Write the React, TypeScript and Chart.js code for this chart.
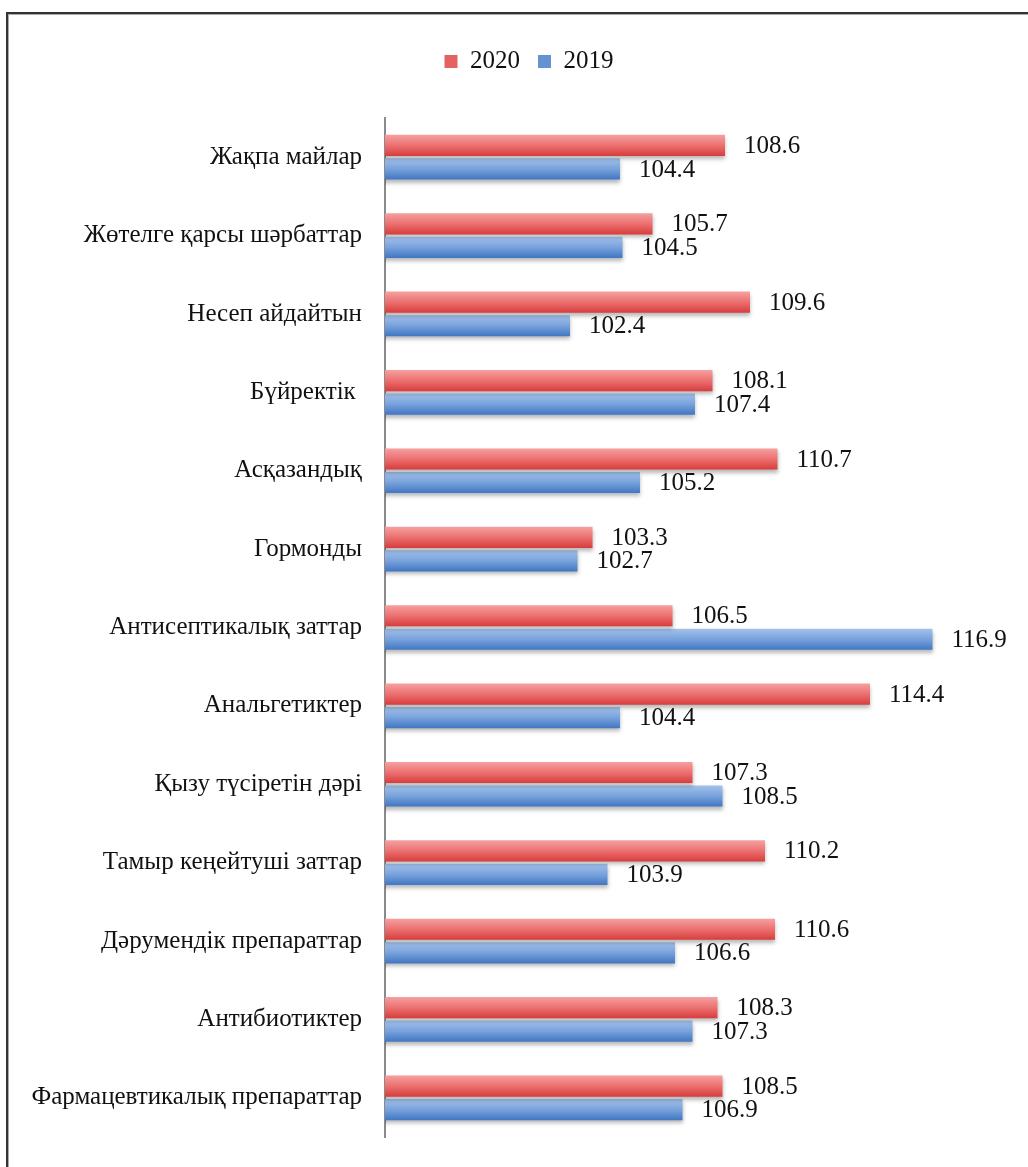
import React, { useEffect, useRef } from "react";
import { Chart, registerables } from "chart.js";

Chart.register(...registerables);

const categories = [
  "Жақпа майлар",
  "Жөтелге қарсы шәрбаттар",
  "Несеп айдайтын",
  "Бүйректік ",
  "Асқазандық",
  "Гормонды",
  "Антисептикалық заттар",
  "Анальгетиктер",
  "Қызу түсіретін дәрі",
  "Тамыр кеңейтуші заттар",
  "Дәрумендік препараттар",
  "Антибиотиктер",
  "Фармацевтикалық препараттар",
];

const values2020 = [108.6, 105.7, 109.6, 108.1, 110.7, 103.3, 106.5, 114.4, 107.3, 110.2, 110.6, 108.3, 108.5];
const values2019 = [104.4, 104.5, 102.4, 107.4, 105.2, 102.7, 116.9, 104.4, 108.5, 103.9, 106.6, 107.3, 106.9];

const seriesLabels = ["2020", "2019"];

const CAT_PCT = 0.6;
const BAR_PCT = 0.9;
const FONT = "'Liberation Serif', 'Times New Roman', serif";

const redStops = ["#f6a0a0", "#ec7070", "#d83c3c"];
const blueStops = ["#a3c2eb", "#78a2dc", "#4176c2"];
const legendColors = ["#e46262", "#6593d2"];

function barFill(stops: string[]) {
  return (c: any) => {
    const chart = c.chart;
    const y = chart.scales && chart.scales.y;
    if (!y || !chart.chartArea) return stops[1];
    const step = (y.bottom - y.top) / categories.length;
    const center = y.getPixelForValue(c.dataIndex);
    const band = step * CAT_PCT;
    const half = band / 2;
    const slotStart = center - band / 2 + c.datasetIndex * half;
    const bh = half * BAR_PCT;
    const y0 = slotStart + (half - bh) / 2;
    const g = chart.ctx.createLinearGradient(0, y0, 0, y0 + bh);
    g.addColorStop(0, stops[0]);
    g.addColorStop(0.5, stops[1]);
    g.addColorStop(1, stops[2]);
    return g;
  };
}

const PAD_TOP = 31;
const AREA_TOP = 118;
const AREA_LEFT = 385;
const PAD_LEFT = 20;
const LEGEND_SHIFT = 14;

const legendSpacer = {
  id: "legendSpacer",
  beforeLayout(chart: any) {
    const legend = chart.legend;
    if (legend && !legend._patched) {
      const orig = legend.fit;
      legend.fit = function () {
        orig.call(this);
        this.height = AREA_TOP - PAD_TOP;
      };
      legend._patched = true;
    }
  },
  afterLayout(chart: any) {
    const legend = chart.legend;
    if (legend) {
      legend.left += LEGEND_SHIFT;
      legend.right += LEGEND_SHIFT;
    }
  },
};

const shadowAndLabels = {
  id: "shadowAndLabels",
  beforeDatasetsDraw(chart: any) {
    const ctx = chart.ctx;
    ctx.save();
    ctx.shadowColor = "rgba(0,0,0,0.28)";
    ctx.shadowOffsetX = 0;
    ctx.shadowOffsetY = 3;
    ctx.shadowBlur = 4;
  },
  afterDatasetsDraw(chart: any) {
    const ctx = chart.ctx;
    ctx.restore();
    ctx.save();
    ctx.font = `25px ${FONT}`;
    ctx.fillStyle = "#111";
    ctx.textAlign = "left";
    ctx.textBaseline = "middle";
    chart.data.datasets.forEach((ds: any, di: number) => {
      const meta = chart.getDatasetMeta(di);
      meta.data.forEach((el: any, i: number) => {
        ctx.fillText(ds.data[i].toFixed(1), el.x + 19, el.y + 1);
      });
    });
    ctx.restore();
  },
};

export default function App() {
  const ref = useRef<HTMLCanvasElement | null>(null);

  useEffect(() => {
    if (!ref.current) return;
    const chart = new Chart(ref.current, {
      type: "bar",
      data: {
        labels: categories,
        datasets: [
          {
            label: seriesLabels[0],
            data: values2020,
            backgroundColor: barFill(redStops),
            borderWidth: 0,
            categoryPercentage: CAT_PCT,
            barPercentage: BAR_PCT,
          },
          {
            label: seriesLabels[1],
            data: values2019,
            backgroundColor: barFill(blueStops),
            borderWidth: 0,
            categoryPercentage: CAT_PCT,
            barPercentage: BAR_PCT,
          },
        ],
      },
      options: {
        indexAxis: "y",
        animation: false,
        responsive: false,
        maintainAspectRatio: false,
        layout: { padding: { top: PAD_TOP, left: PAD_LEFT, right: 18, bottom: 27 } },
        plugins: {
          tooltip: { enabled: false },
          legend: {
            position: "top",
            labels: {
              font: { family: FONT, size: 25 },
              color: "#111",
              boxWidth: 13,
              boxHeight: 13,
              padding: 18,
              generateLabels: (chart: any) =>
                chart.data.datasets.map((ds: any, i: number) => ({
                  text: ds.label,
                  fillStyle: legendColors[i],
                  strokeStyle: legendColors[i],
                  lineWidth: 0,
                  hidden: false,
                  datasetIndex: i,
                  fontColor: "#111",
                })),
            },
          },
        },
        scales: {
          x: {
            display: false,
            min: 95,
            max: 120,
          },
          y: {
            grid: { display: false },
            border: { display: true, color: "#8a8a8a", width: 2 },
            ticks: {
              font: { family: FONT, size: 25 },
              color: "#111",
              padding: 15,
            },
            afterFit: (scale: any) => {
              scale.width = AREA_LEFT - PAD_LEFT;
            },
          },
        },
      },
      plugins: [legendSpacer, shadowAndLabels],
    });
    return () => chart.destroy();
  }, []);

  return (
    <div style={{ position: "absolute", left: 0, top: 0, width: 1028, height: 1167, background: "#fff", overflow: "hidden" }}>
      <div
        style={{
          position: "absolute",
          left: 6,
          top: 12,
          width: 1040,
          height: 1200,
          borderLeft: "2px solid #333",
          borderTop: "2px solid #333",
          boxShadow: "inset 1px 1px 0 #aaa",
        }}
      />
      <canvas ref={ref} width={1028} height={1167} style={{ position: "absolute", left: 0, top: 0, width: 1028, height: 1167 }} />
    </div>
  );
}
